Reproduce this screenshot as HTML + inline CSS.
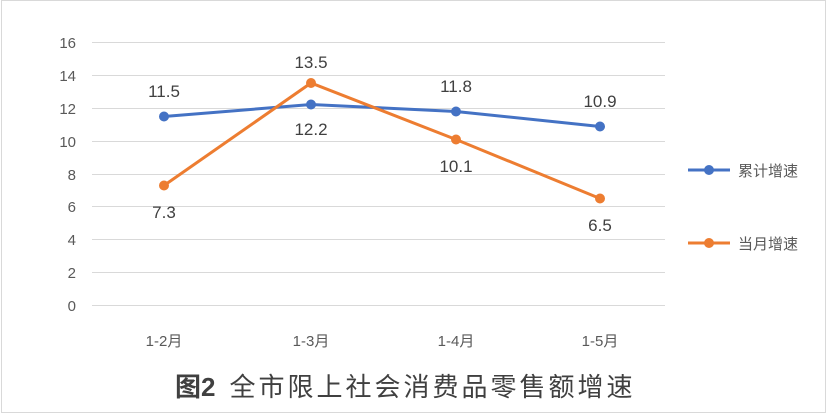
<!DOCTYPE html><html><head><meta charset="utf-8"><style>body{margin:0;background:#fff}svg{display:block}</style></head><body>
<svg width="827" height="415" xmlns="http://www.w3.org/2000/svg" font-family="Liberation Sans, Noto Sans CJK SC, sans-serif">
<rect x="1.5" y="0.5" width="824" height="412" fill="#fff" stroke="#d9d9d9"/>
<g stroke="#d9d9d9" stroke-width="1">
<line x1="92" x2="665" y1="42.5" y2="42.5"/><line x1="92" x2="665" y1="75.5" y2="75.5"/><line x1="92" x2="665" y1="108.5" y2="108.5"/><line x1="92" x2="665" y1="141.5" y2="141.5"/><line x1="92" x2="665" y1="174.5" y2="174.5"/><line x1="92" x2="665" y1="206.5" y2="206.5"/><line x1="92" x2="665" y1="239.5" y2="239.5"/><line x1="92" x2="665" y1="272.5" y2="272.5"/><line x1="92" x2="665" y1="305.5" y2="305.5"/>
</g>
<g font-size="15" fill="#595959" text-anchor="end">
<text x="76" y="48">16</text><text x="76" y="81">14</text><text x="76" y="114">12</text><text x="76" y="147">10</text><text x="76" y="180">8</text><text x="76" y="212">6</text><text x="76" y="245">4</text><text x="76" y="278">2</text><text x="76" y="311">0</text>
</g>
<g font-size="15" fill="#595959" text-anchor="middle">
<text x="164" y="346">1-2月</text><text x="311" y="346">1-3月</text><text x="456" y="346">1-4月</text><text x="600" y="346">1-5月</text>
</g>
<polyline points="164,116.5 311,104.5 456,111.5 600,126.5" fill="none" stroke="#4472c4" stroke-width="3"/>
<polyline points="164,185.5 311,83 456,139.5 600,198.5" fill="none" stroke="#ed7d31" stroke-width="3"/>
<g fill="#4472c4"><circle cx="164" cy="116.5" r="5"/><circle cx="311" cy="104.5" r="5"/><circle cx="456" cy="111.5" r="5"/><circle cx="600" cy="126.5" r="5"/></g>
<g fill="#ed7d31"><circle cx="164" cy="185.5" r="5"/><circle cx="311" cy="83" r="5"/><circle cx="456" cy="139.5" r="5"/><circle cx="600" cy="198.5" r="5"/></g>
<g font-size="17" fill="#404040" text-anchor="middle">
<text x="164" y="97">11.5</text><text x="311" y="135">12.2</text><text x="456" y="92">11.8</text><text x="600" y="107">10.9</text>
<text x="164" y="218">7.3</text><text x="311" y="68">13.5</text><text x="456" y="172">10.1</text><text x="600" y="231">6.5</text>
</g>
<line x1="688" x2="730" y1="170" y2="170" stroke="#4472c4" stroke-width="3"/><circle cx="709" cy="170" r="5" fill="#4472c4"/>
<text x="738" y="176" font-size="15" fill="#595959">累计增速</text>
<line x1="688" x2="730" y1="243" y2="243" stroke="#ed7d31" stroke-width="3"/><circle cx="709" cy="243" r="5" fill="#ed7d31"/>
<text x="738" y="249" font-size="15" fill="#595959">当月增速</text>
<text x="175" y="396" font-size="26" fill="#404040"><tspan font-weight="bold">图2</tspan><tspan dx="14" letter-spacing="3">全市限上社会消费品零售额增速</tspan></text>
</svg></body></html>
